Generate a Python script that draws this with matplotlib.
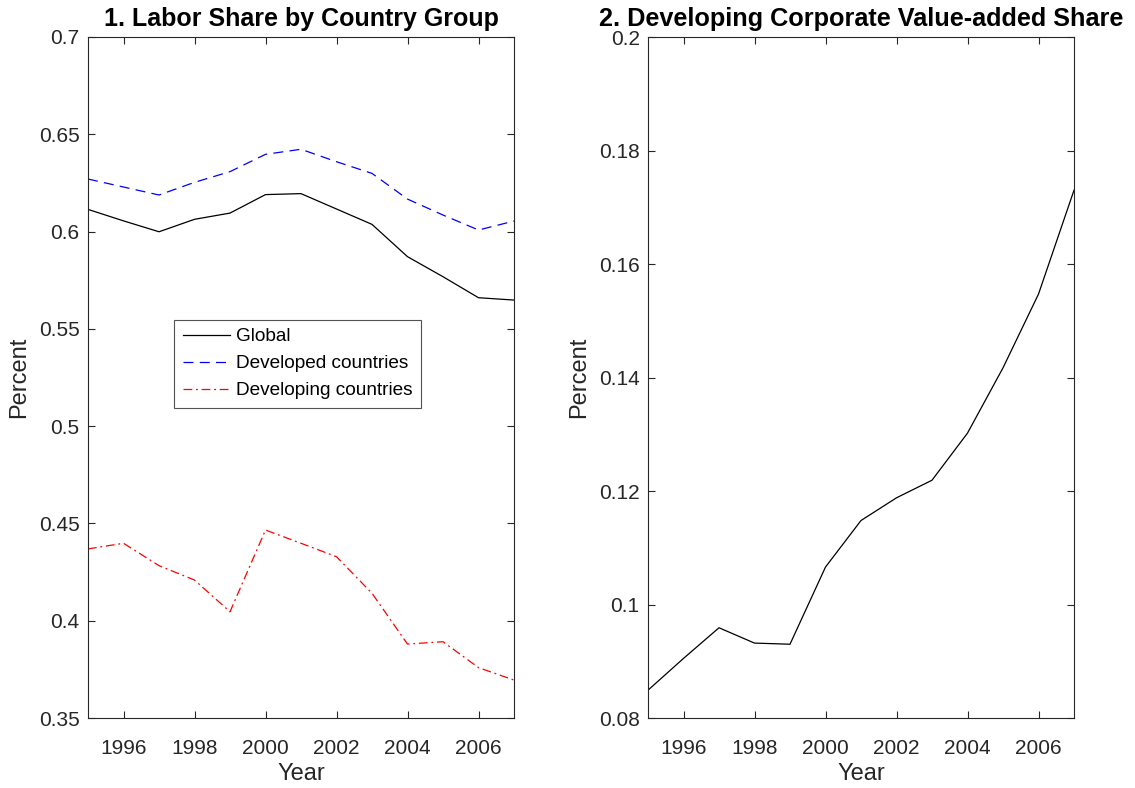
import matplotlib.pyplot as plt

years = [1995, 1996, 1997, 1998, 1999, 2000, 2001, 2002, 2003, 2004, 2005, 2006, 2007]
global_share = [0.6114, 0.6055, 0.5999, 0.6063, 0.6095, 0.6190, 0.6195, 0.6116, 0.6037,
                0.5871, 0.5768, 0.5660, 0.5648]
developed_share = [0.6270, 0.6229, 0.6188, 0.6253, 0.6308, 0.6397, 0.6423, 0.6359, 0.6299,
                   0.6167, 0.6085, 0.6008, 0.6054]
developing_share = [0.4369, 0.4398, 0.4283, 0.4209, 0.4046, 0.4466, 0.4398, 0.4329, 0.4141,
                    0.3880, 0.3892, 0.3759, 0.3695]
corp_va_share = [0.0849, 0.0905, 0.0959, 0.0932, 0.0930, 0.1066, 0.1148, 0.1188, 0.1219,
                 0.1302, 0.1417, 0.1547, 0.1730]

plt.rcParams['font.family'] = ['Liberation Sans', 'DejaVu Sans']
axcol = '#262626'

fig = plt.figure(figsize=(11.35, 7.88), dpi=100)
ax1 = fig.add_axes([88 / 1135, 70 / 788, 426 / 1135, 681 / 788])
ax2 = fig.add_axes([648 / 1135, 70 / 788, 426 / 1135, 681 / 788])

ax1.plot(years, global_share, color='black', lw=0.9, label='Global')
ax1.plot(years, developed_share, color='blue', lw=0.9, dashes=(8, 5), label='Developed countries')
ax1.plot(years, developing_share, color='red', lw=0.9, dashes=(7, 3, 1.5, 3), label='Developing countries')
ax1.set_ylim(0.35, 0.7)
ax1.set_yticks([0.35, 0.4, 0.45, 0.5, 0.55, 0.6, 0.65, 0.7])
ax1.set_yticklabels(['0.35', '0.4', '0.45', '0.5', '0.55', '0.6', '0.65', '0.7'])
ax1.set_title('1. Labor Share by Country Group', fontsize=18, fontweight='bold', pad=8)
leg = ax1.legend(loc='upper left', bbox_to_anchor=(0.202, 0.585), borderaxespad=0, fontsize=13.7,
                 frameon=True, fancybox=False, edgecolor=axcol, handlelength=2.5, borderpad=0.45,
                 labelspacing=0.5, handletextpad=0.3)
leg.get_frame().set_linewidth(0.8)

ax2.plot(years, corp_va_share, color='black', lw=0.9)
ax2.set_ylim(0.08, 0.2)
ax2.set_yticks([0.08, 0.1, 0.12, 0.14, 0.16, 0.18, 0.2])
ax2.set_yticklabels(['0.08', '0.1', '0.12', '0.14', '0.16', '0.18', '0.2'])
ax2.set_title('2. Developing Corporate Value-added Share', fontsize=18.2, fontweight='bold', pad=8)

for ax in (ax1, ax2):
    ax.set_xlim(1995, 2007)
    ax.set_xticks([1996, 1998, 2000, 2002, 2004, 2006])
    ax.set_xlabel('Year', fontsize=17, color=axcol, labelpad=4)
    ax.set_ylabel('Percent', fontsize=17, color=axcol, labelpad=6)
    ax.tick_params(direction='in', top=True, right=True, length=5, width=0.8,
                   labelsize=15, colors=axcol)
    ax.tick_params(axis='x', pad=15)
    ax.tick_params(axis='y', pad=6)
    for s in ax.spines.values():
        s.set_color(axcol)
        s.set_linewidth(0.8)

fig.savefig('out.png', dpi=100)
